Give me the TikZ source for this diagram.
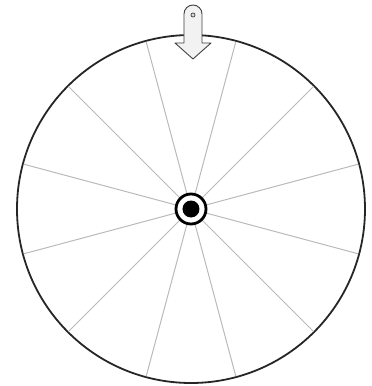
\documentclass[tikz,border=0pt]{standalone}
\usepackage{tikz}
\usepackage{xcolor}

\begin{document}
\begin{tikzpicture}[x=1pt, y=1pt,
  wheel/.style={circle, draw=black!85, line width=1.8pt, minimum size=348pt, inner sep=0pt, outer sep=0pt},
  spoke/.style={line width=1pt, draw=black!27, shorten >=0.9pt},
  hubring/.style={circle, draw=black, line width=2.8pt, fill=white, minimum size=30pt, inner sep=0pt},
  hubdot/.style={circle, fill=black, minimum size=17pt, inner sep=0pt},
  pointer/.style={draw=black!75, line width=0.9pt, fill=black!5, line join=round}
]
\useasboundingbox (-191,-177) rectangle (181,209);
\node[wheel] (w) at (0,0) {};
\draw[spoke] (w.center) -- (w.15);
\draw[spoke] (w.center) -- (w.45);
\draw[spoke] (w.center) -- (w.75);
\draw[spoke] (w.center) -- (w.105);
\draw[spoke] (w.center) -- (w.135);
\draw[spoke] (w.center) -- (w.165);
\draw[spoke] (w.center) -- (w.195);
\draw[spoke] (w.center) -- (w.225);
\draw[spoke] (w.center) -- (w.255);
\draw[spoke] (w.center) -- (w.285);
\draw[spoke] (w.center) -- (w.315);
\draw[spoke] (w.center) -- (w.345);
\node[hubring] (hub) at (w.center) {};
\node[hubdot] (dot) at (hub.center) {};
% pointer on top
\draw[pointer] (-7,166) -- (-7,195) arc[start angle=180, end angle=0, radius=9] -- (11,166) -- (20,166) -- (2,150) -- (-16,166) -- cycle;
\node[circle, draw=black!75, line width=0.7pt, fill=black!15, minimum size=4pt, inner sep=0pt] (pin) at (2,194) {};
\end{tikzpicture}
\end{document}
